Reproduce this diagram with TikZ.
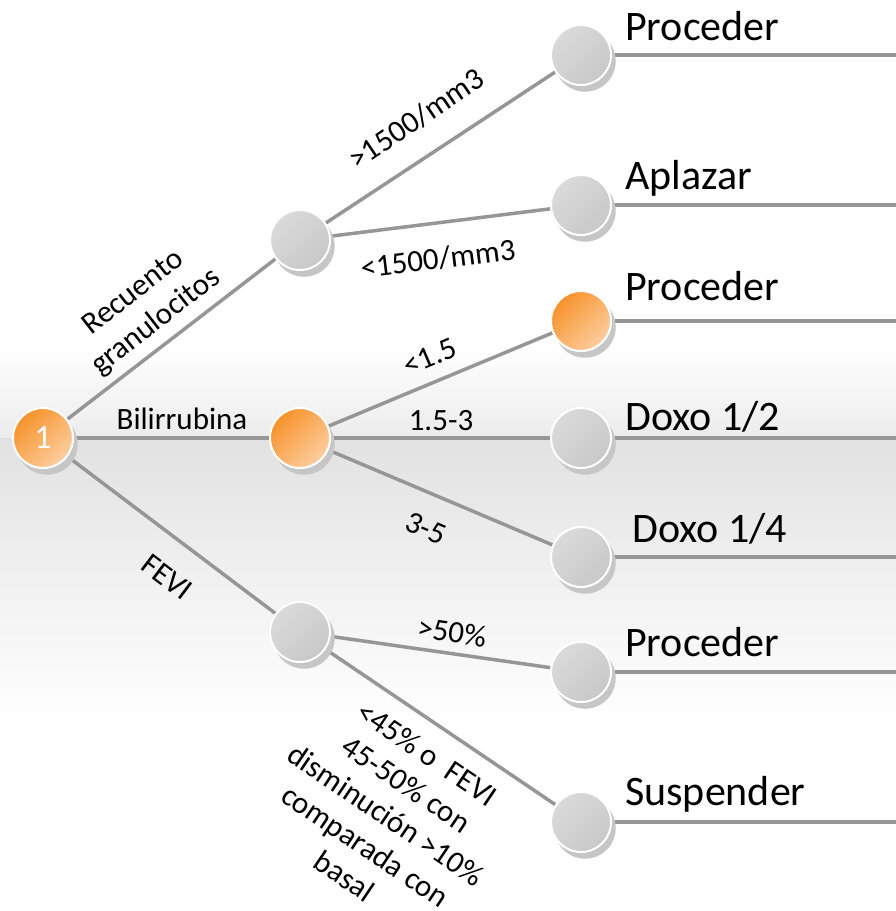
\documentclass[tikz,border=0pt]{standalone}
\usepackage{fontspec}
\setmainfont{Carlito}
\usetikzlibrary{shadows}
\definecolor{linegray}{RGB}{150,150,150}
\definecolor{org1}{RGB}{247,146,42}
\definecolor{org2}{RGB}{253,206,160}
\definecolor{gr1}{RGB}{218,218,218}
\definecolor{gr2}{RGB}{200,200,200}
\definecolor{bgg}{RGB}{226,226,226}
\definecolor{bgm}{RGB}{236,236,236}
\definecolor{shd}{RGB}{198,198,198}
\pgfdeclarelayer{bg}
\pgfdeclarelayer{edges}
\pgfsetlayers{bg,edges,main}
\begin{document}
\begin{tikzpicture}[x=1pt,y=1pt,
 circ/.style={circle, minimum size=60pt, inner sep=0pt, draw=white, line width=2pt,
   drop shadow={shadow xshift=4pt, shadow yshift=-6pt, shadow scale=1.02, fill=shd, opacity=1}},
 onode/.style={circ, top color=org1, bottom color=org2, shading angle=45},
 gnode/.style={circ, top color=gr1, bottom color=gr2, shading angle=45},
 conn/.style={draw=linegray, line width=3.5pt},
 leaf/.style={anchor=base west, font=\fontsize{42}{50}\selectfont, inner sep=0pt},
 elab/.style={font=\fontsize{31}{37}\selectfont, inner sep=0pt, align=center},
]
\useasboundingbox (0,0) rectangle (896,-911);
\begin{pgfonlayer}{bg}
\fill[white] (0,0) rectangle (896,-911);
\shade[top color=white, bottom color=bgm] (0,-345) rectangle (896,-438);
\shade[top color=bgg, bottom color=white] (0,-438) rectangle (896,-720);
\end{pgfonlayer}

% nodes
\node[onode] (r) at (43,-438) {\fontsize{34}{40}\selectfont\color{white}1};
\node[gnode] (g) at (300,-240) {};
\node[onode] (b) at (300,-438) {};
\node[gnode] (f) at (300,-632) {};
\node[gnode] (l1) at (581,-55) {};
\node[gnode] (l2) at (581,-205) {};
\node[onode] (l3) at (581,-321) {};
\node[gnode] (l4) at (581,-438) {};
\node[gnode] (l5) at (581,-557) {};
\node[gnode] (l6) at (581,-672) {};
\node[gnode] (l7) at (581,-822) {};

\coordinate (t1) at (896,-55);
\coordinate (t2) at (896,-205);
\coordinate (t3) at (896,-321);
\coordinate (t4) at (896,-438);
\coordinate (t5) at (896,-557);
\coordinate (t6) at (896,-672);
\coordinate (t7) at (896,-822);

\begin{pgfonlayer}{edges}
\draw[conn] (r) -- (g);
\draw[conn] (r) -- (b);
\draw[conn] (r) -- (f);
\draw[conn] (g) -- (l1);
\draw[conn] (g) -- (l2);
\draw[conn] (b) -- (l3);
\draw[conn] (b) -- (l4);
\draw[conn] (b) -- (l5);
\draw[conn] (f) -- (l6);
\draw[conn] (f) -- (l7);
\draw[conn] (l1) -- (t1);
\draw[conn] (l2) -- (t2);
\draw[conn] (l3) -- (t3);
\draw[conn] (l4) -- (t4);
\draw[conn] (l5) -- (t5);
\draw[conn] (l6) -- (t6);
\draw[conn] (l7) -- (t7);
\end{pgfonlayer}

% leaf labels
\node[leaf] (p1) at (625,-40) {Proceder};
\node[leaf] (p2) at (625,-189) {Aplazar};
\node[leaf] (p3) at (625,-300) {Proceder};
\node[leaf] (p4) at (625,-430) {Doxo 1/2};
\node[leaf] (p5) at (632,-542) {Doxo 1/4};
\node[leaf] (p6) at (625,-656) {Proceder};
\node[leaf] (p7) at (625,-805) {Suspender};

% edge labels
\node[elab, rotate=38] (a1) at (145,-308) {Recuento\\granulocitos};
\node[elab, rotate=34] (a2) at (416,-119) {>1500/mm3};
\node[elab, rotate=7] (a3) at (438,-259) {<1500/mm3};
\node[elab] (a4) at (182,-419) {Bilirrubina};
\node[elab, rotate=23] (a5) at (430,-357) {<1.5};
\node[elab] (a6) at (441,-421) {1.5-3};
\node[elab, rotate=-23] (a7) at (426,-528) {3-5};
\node[elab, rotate=-37] (a8) at (167,-577) {FEVI};
\node[elab, rotate=-8] (a9) at (452,-632) {>50\%};
\node[elab, rotate=-34] (a10) at (386,-815) {<45\% o\ \ FEVI\\45-50\% con\\disminución >10\%\\comparada con\\basal};
\end{tikzpicture}
\end{document}
